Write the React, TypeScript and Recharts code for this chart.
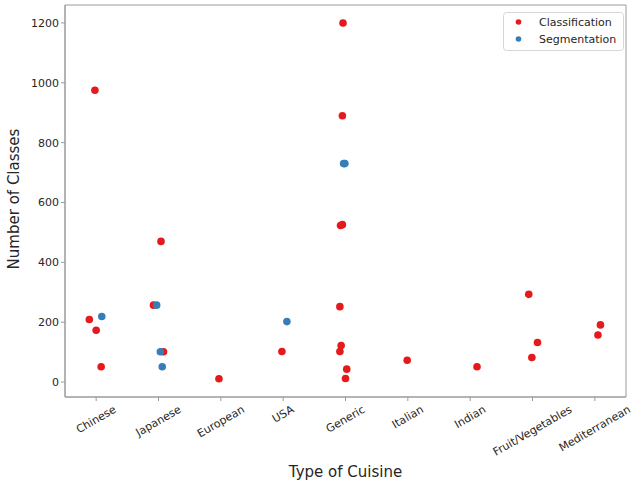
import React from 'react';
import { ScatterChart, Scatter, XAxis, YAxis, Legend, ReferenceArea, Label } from 'recharts';

const categories = ['Chinese', 'Japanese', 'European', 'USA', 'Generic', 'Italian', 'Indian', 'Fruit/Vegetables', 'Mediterranean'];
const yTicks = [0, 200, 400, 600, 800, 1000, 1200];

const classificationCategory = [0, 0, 0, 0, 1, 1, 1, 2, 3, 4, 4, 4, 4, 4, 4, 4, 4, 4, 5, 6, 7, 7, 7, 8, 8];
const classificationValues = [975, 209, 173, 51, 470, 257, 101, 11, 102, 1200, 890, 523, 526, 252, 122, 102, 43, 12, 73, 51, 293, 132, 82, 191, 157];
const classificationJitter = [-0.02, -0.11, 0.0, 0.08, 0.04, -0.08, 0.08, -0.03, -0.02, -0.04, -0.05, -0.08, -0.05, -0.09, -0.07, -0.09, 0.02, 0.0, -0.01, 0.11, -0.06, 0.08, -0.01, 0.09, 0.05];

const segmentationCategory = [0, 1, 1, 1, 3, 4, 4];
const segmentationValues = [219, 257, 101, 51, 202, 730, 730];
const segmentationJitter = [0.09, -0.03, 0.03, 0.06, 0.06, -0.03, -0.01];

const RED = '#e41a1c';
const BLUE = '#377eb8';
const FONT = '"DejaVu Sans", sans-serif';
const TEXT = '#262626';
const SPINE = '#9a9a9a';

const classificationData = classificationValues.map((v, i) => ({
  x: classificationCategory[i] + classificationJitter[i],
  y: v,
}));
const segmentationData = segmentationValues.map((v, i) => ({
  x: segmentationCategory[i] + segmentationJitter[i],
  y: v,
}));

let ctx: CanvasRenderingContext2D | null = null;
function measure(text: string, size: number): number {
  if (!ctx) {
    const c = document.createElement('canvas');
    ctx = c.getContext('2d');
  }
  if (!ctx) return text.length * size * 0.6;
  ctx.font = `${size}px "DejaVu Sans"`;
  return ctx.measureText(text).width;
}

const XTick = (props: any) => {
  const { x, y, payload } = props;
  const label = categories[payload.value] ?? '';
  const fs = 11;
  const w = measure(label, fs);
  const h = fs * 1.17;
  const cy = y + (w * 0.5 + h * 0.866) / 2;
  return (
    <text
      x={x}
      y={cy}
      textAnchor="middle"
      dominantBaseline="central"
      fontSize={fs}
      fontFamily={FONT}
      fill={TEXT}
      transform={`rotate(-30, ${x}, ${cy})`}
    >
      {label}
    </text>
  );
};

const dot = (color: string) => (p: any) => <circle cx={p.cx} cy={p.cy} r={3.8} fill={color} />;

const LegendBox = () => (
  <svg width={121} height={39} style={{ display: 'block' }}>
    <rect x={0.5} y={0.5} width={120} height={38} rx={3} fill="#fff" stroke="#d6d6d6" />
    <circle cx={15.5} cy={10} r={2.8} fill={RED} />
    <text x={36} y={10} dominantBaseline="central" fontSize={11} fontFamily={FONT} fill={TEXT}>Classification</text>
    <circle cx={15.5} cy={27} r={2.8} fill={BLUE} />
    <text x={36} y={27} dominantBaseline="central" fontSize={11} fontFamily={FONT} fill={TEXT}>Segmentation</text>
  </svg>
);

export default function App() {
  return (
    <div style={{ position: 'absolute', left: 0, top: 0 }}>
      <ScatterChart width={633} height={485} margin={{ top: 5, right: 7, bottom: 0, left: 15 }}>
        <ReferenceArea x1={-0.5} x2={8.5} y1={-50} y2={1260} fill="none" stroke={SPINE} strokeWidth={1} />
        <XAxis
          type="number"
          dataKey="x"
          domain={[-0.5, 8.5]}
          ticks={[0, 1, 2, 3, 4, 5, 6, 7, 8]}
          interval={0}
          allowDataOverflow
          height={88}
          tickSize={4}
          tickMargin={2}
          stroke={SPINE}
          tick={<XTick />}
        >
          <Label
            content={(p: any) => (
              <text x={345.5} y={477} textAnchor="middle" fontSize={15} fontFamily={FONT} fill={TEXT}>
                Type of Cuisine
              </text>
            )}
          />
        </XAxis>
        <YAxis
          type="number"
          dataKey="y"
          domain={[-50, 1260]}
          ticks={yTicks}
          allowDataOverflow
          width={50}
          tickSize={4}
          tickMargin={2}
          stroke={SPINE}
          tick={{ fontSize: 11, fontFamily: FONT, fill: TEXT }}
        >
          <Label
            content={(p: any) => (
              <text
                x={14}
                y={199}
                textAnchor="middle"
                dominantBaseline="central"
                fontSize={15}
                fontFamily={FONT}
                fill={TEXT}
                transform="rotate(-90, 14, 199)"
              >
                Number of Classes
              </text>
            )}
          />
        </YAxis>
        <Legend
          layout="vertical"
          align="center"
          verticalAlign="middle"
          content={<LegendBox />}
          wrapperStyle={{ left: 503, top: 12, width: 121, height: 39 }}
        />
        <Scatter name="Classification" data={classificationData} fill={RED} shape={dot(RED)} isAnimationActive={false} />
        <Scatter name="Segmentation" data={segmentationData} fill={BLUE} shape={dot(BLUE)} isAnimationActive={false} />
      </ScatterChart>
    </div>
  );
}
